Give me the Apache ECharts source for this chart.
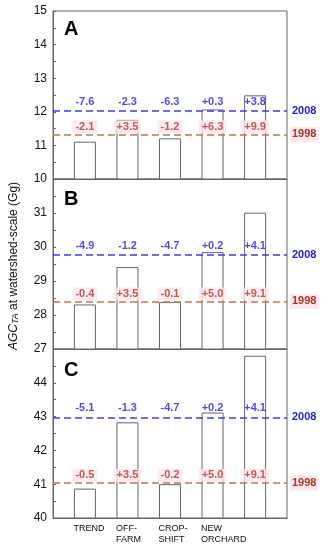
<!DOCTYPE html>
<html>
<head>
<meta charset="utf-8">
<script src="https://cdn.jsdelivr.net/npm/echarts@6/dist/echarts.min.js"></script>
<style>
html,body{margin:0;padding:0;background:#fff;}
#chart{width:324px;height:550px;}
</style>
</head>
<body>
<div id="chart"></div>
<script>
// ---- data ----
const categories = ['TREND', 'OFF-\nFARM', 'CROP-\nSHIFT', 'NEW\nORCHARD', 'REFOREST'];
const panelLetters = ['A', 'B', 'C'];
const barsA = [11.11, 11.76, 11.21, 12.07, 12.49];
const barsB = [28.31, 29.41, 28.38, 29.85, 31.01];
const barsC = [40.87, 42.83, 41.00, 43.12, 44.80];
const ref2008 = [12.02, 29.76, 42.98];
const ref1998 = [11.33, 28.40, 41.04];
const chg2008A = ['-7.6', '-2.3', '-6.3', '+0.3', '+3.8'];
const chg1998A = ['-2.1', '+3.5', '-1.2', '+6.3', '+9.9'];
const chg2008B = ['-4.9', '-1.2', '-4.7', '+0.2', '+4.1'];
const chg1998B = ['-0.4', '+3.5', '-0.1', '+5.0', '+9.1'];
const chg2008C = ['-5.1', '-1.3', '-4.7', '+0.2', '+4.1'];
const chg1998C = ['-0.5', '+3.5', '-0.2', '+5.0', '+9.1'];
const yMin = [10, 27, 40];
const yMax = [15, 32, 45];
const yearLabels = ['2008', '1998'];

const bars = [barsA, barsB, barsC];
const chg2008 = [chg2008A, chg2008B, chg2008C];
const chg1998 = [chg1998A, chg1998B, chg1998C];

// ---- style ----
const FONT = 'Liberation Sans, Arial, sans-serif';
const AX = '#666';
const BLUE_LINE = '#3c3ce8';
const BLUE_TXT = '#1e1ed2';
const RED_LINE = '#c0784e';
const RED_TXT = '#a8382a';
const PINK = '#fde6ee';

const gridsPos = [
  {top: 11, height: 168},
  {top: 179, height: 170},
  {top: 349, height: 169}
];

const grid = gridsPos.map(g => ({
  left: 53, width: 234, top: g.top, height: g.height,
  show: true, borderColor: AX, borderWidth: 1, backgroundColor: 'transparent',
  containLabel: false, outerBoundsMode: 'none'
}));

const xAxis = gridsPos.map((g, p) => ({
  type: 'value', gridIndex: p, min: 0.25, max: 5.75,
  axisLine: {show: true, onZero: false, lineStyle: {color: AX}},
  axisTick: {show: false},
  splitLine: {show: false},
  axisLabel: p === 2 ? {
    show: true,
    customValues: categories.map((c, i) => i + 1 - 0.27),
    formatter: (v) => {
      const i = Math.round(v + 0.27) - 1;
      return categories[i] || '';
    },
    align: 'left', margin: 5, fontSize: 9, lineHeight: 11,
    color: '#111', fontFamily: FONT
  } : {show: false}
}));

const yAxis = gridsPos.map((g, p) => ({
  type: 'value', gridIndex: p, min: yMin[p], max: yMax[p], interval: 1,
  axisLine: {show: true, lineStyle: {color: AX}},
  axisTick: {show: true, inside: true, length: 3, lineStyle: {color: AX}},
  minorTick: {show: true, splitNumber: 2, length: 3, lineStyle: {color: AX}},
  splitLine: {show: false},
  axisLabel: {
    fontSize: 12, color: '#111', fontFamily: FONT, margin: 6,
    showMaxLabel: p === 0, showMinLabel: true
  }
}));

const series = [];
for (let p = 0; p < 3; p++) {
  series.push({
    type: 'bar', xAxisIndex: p, yAxisIndex: p, barWidth: 22,
    data: bars[p].map((v, i) => [i + 1, v]),
    itemStyle: {color: '#fff', borderColor: AX, borderWidth: 1},
    silent: true, z: 2
  });
  series.push({
    type: 'scatter', xAxisIndex: p, yAxisIndex: p, symbolSize: 0, silent: true, z: 5,
    data: categories.map((c, i) => [i + 1, ref2008[p]]),
    label: {show: true, position: 'top', distance: 4,
      formatter: (d) => chg2008[p][d.dataIndex],
      color: BLUE_TXT, fontWeight: 'bold', fontSize: 11, fontFamily: FONT},
    markLine: {
      silent: true, symbol: 'none', animation: false,
      lineStyle: {color: BLUE_LINE, type: [7, 4], width: 1.5},
      label: {show: true, position: 'end', formatter: yearLabels[0], distance: 5,
        color: BLUE_TXT, fontWeight: 'bold', fontSize: 11, fontFamily: FONT},
      data: [{yAxis: ref2008[p]}]
    }
  });
  series.push({
    type: 'scatter', xAxisIndex: p, yAxisIndex: p, symbolSize: 0, silent: true, z: 5,
    data: categories.map((c, i) => [i + 1, ref1998[p]]),
    label: {show: true, position: 'top', distance: 1,
      formatter: (d) => chg1998[p][d.dataIndex],
      color: RED_TXT, fontWeight: 'bold', fontSize: 11, fontFamily: FONT,
      backgroundColor: PINK, padding: [1, 3]},
    markLine: {
      silent: true, symbol: 'none', animation: false,
      lineStyle: {color: RED_LINE, type: [7, 4], width: 1.5},
      label: {show: true, position: 'end', formatter: yearLabels[1], distance: 3,
        color: RED_TXT, fontWeight: 'bold', fontSize: 11, fontFamily: FONT,
        backgroundColor: PINK, padding: [2, 2]},
      data: [{yAxis: ref1998[p]}]
    }
  });
}

const letterY = [29, 199.5, 370];
const graphic = panelLetters.map((L, p) => ({
  type: 'text', left: 64, top: letterY[p] - 10, z: 10, silent: true,
  style: {text: L, fontSize: 20, fontWeight: 'bold', fill: '#000', fontFamily: FONT}
}));
graphic.push({
  type: 'text', x: 13.5, y: 266, rotation: Math.PI / 2, z: 10, silent: true,
  style: {
    text: '{i|AGC}{s|TA}{n| at watershed-scale (Gg)}',
    align: 'center', verticalAlign: 'middle', fill: '#111', fontFamily: FONT,
    rich: {
      i: {fontSize: 12, fontStyle: 'italic', fontFamily: FONT, fill: '#111', verticalAlign: 'bottom'},
      s: {fontSize: 9, fontStyle: 'italic', fontFamily: FONT, fill: '#111', verticalAlign: 'bottom', padding: [3, 0, 0, 0]},
      n: {fontSize: 12, fontFamily: FONT, fill: '#111', verticalAlign: 'bottom'}
    }
  }
});

const chart = echarts.init(document.getElementById('chart'), null, {renderer: 'canvas'});
chart.setOption({
  animation: false,
  backgroundColor: '#fff',
  grid, xAxis, yAxis, series, graphic
});
</script>
</body>
</html>
